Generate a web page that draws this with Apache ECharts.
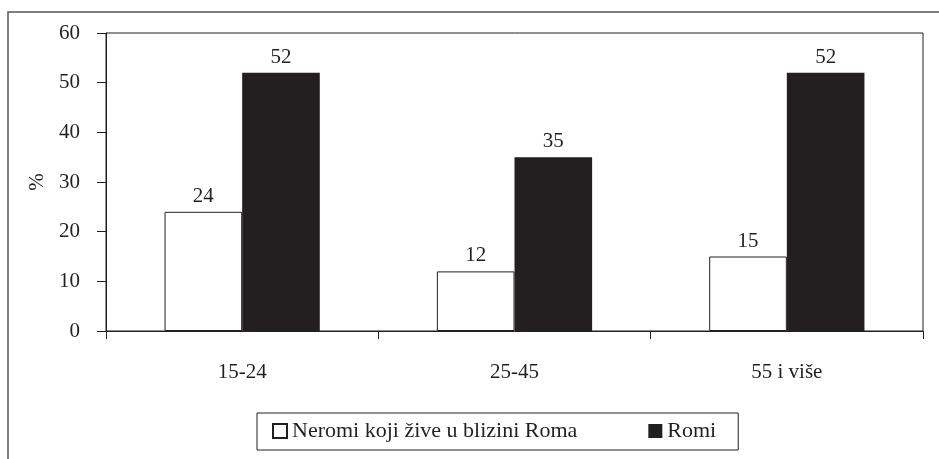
<!DOCTYPE html>
<html>
<head>
<meta charset="utf-8">
<script src="https://cdn.jsdelivr.net/npm/echarts@6/dist/echarts.min.js"></script>
<style>
html,body{margin:0;padding:0;background:#fff;}
#chart{width:939px;height:459px;}
</style>
</head>
<body>
<div id="chart"></div>
<script>
var categories = ['15-24', '25-45', '55 i više'];
var seriesNames = ['Neromi koji žive u blizini Roma', 'Romi'];
var neromiValues = [24, 12, 15];
var romiValues = [52, 35, 52];
var yTicks = [0, 10, 20, 30, 40, 50, 60];

var FONT = "'Liberation Serif', 'DejaVu Serif', serif";
var INK = '#231f20';

var chart = echarts.init(document.getElementById('chart'), null, {renderer: 'canvas'});
chart.setOption({
  animation: false,
  backgroundColor: '#fff',
  textStyle: {fontFamily: FONT, color: INK},
  graphic: [{
    type: 'rect',
    shape: {x: 8, y: 12, width: 1200, height: 1000},
    style: {fill: 'none', stroke: '#555', lineWidth: 1.5},
    silent: true, z: -1
  }],
  grid: {
    left: 106, top: 33, right: 16, bottom: 128,
    show: true, borderColor: INK, borderWidth: 1, backgroundColor: 'transparent'
  },
  legend: {
    left: 257, top: 413,
    padding: [7, 22, 8, 15],
    itemGap: 71,
    itemWidth: 14, itemHeight: 14,
    borderColor: INK, borderWidth: 1,
    icon: 'rect',
    textStyle: {fontFamily: FONT, fontSize: 22, color: INK},
    data: seriesNames
  },
  xAxis: {
    type: 'category',
    data: categories,
    boundaryGap: true,
    axisLine: {show: true, lineStyle: {color: INK, width: 1}},
    axisTick: {show: true, inside: false, length: 8, lineStyle: {color: INK}},
    axisLabel: {fontFamily: FONT, fontSize: 21, color: INK, margin: 31}
  },
  yAxis: {
    type: 'value',
    min: yTicks[0], max: yTicks[yTicks.length - 1], interval: 10,
    name: '%',
    nameLocation: 'middle',
    nameGap: 54,
    nameRotate: 90,
    nameTextStyle: {fontFamily: FONT, fontSize: 21, color: INK},
    axisLine: {show: true, lineStyle: {color: INK, width: 1}},
    axisTick: {show: true, inside: false, length: 9, lineStyle: {color: INK}},
    axisLabel: {fontFamily: FONT, fontSize: 21, color: INK, margin: 26},
    splitLine: {show: false}
  },
  series: [{
    name: seriesNames[0],
    type: 'bar',
    data: neromiValues,
    barGap: '0%',
    barCategoryGap: '43%',
    itemStyle: {color: '#fff', borderColor: INK, borderWidth: 1},
    label: {show: true, position: 'top', distance: 5, fontFamily: FONT, fontSize: 21, color: INK}
  }, {
    name: seriesNames[1],
    type: 'bar',
    data: romiValues,
    barGap: '0%',
    barCategoryGap: '43%',
    itemStyle: {color: INK},
    label: {show: true, position: 'top', distance: 5, fontFamily: FONT, fontSize: 21, color: INK}
  }]
});
</script>
</body>
</html>
